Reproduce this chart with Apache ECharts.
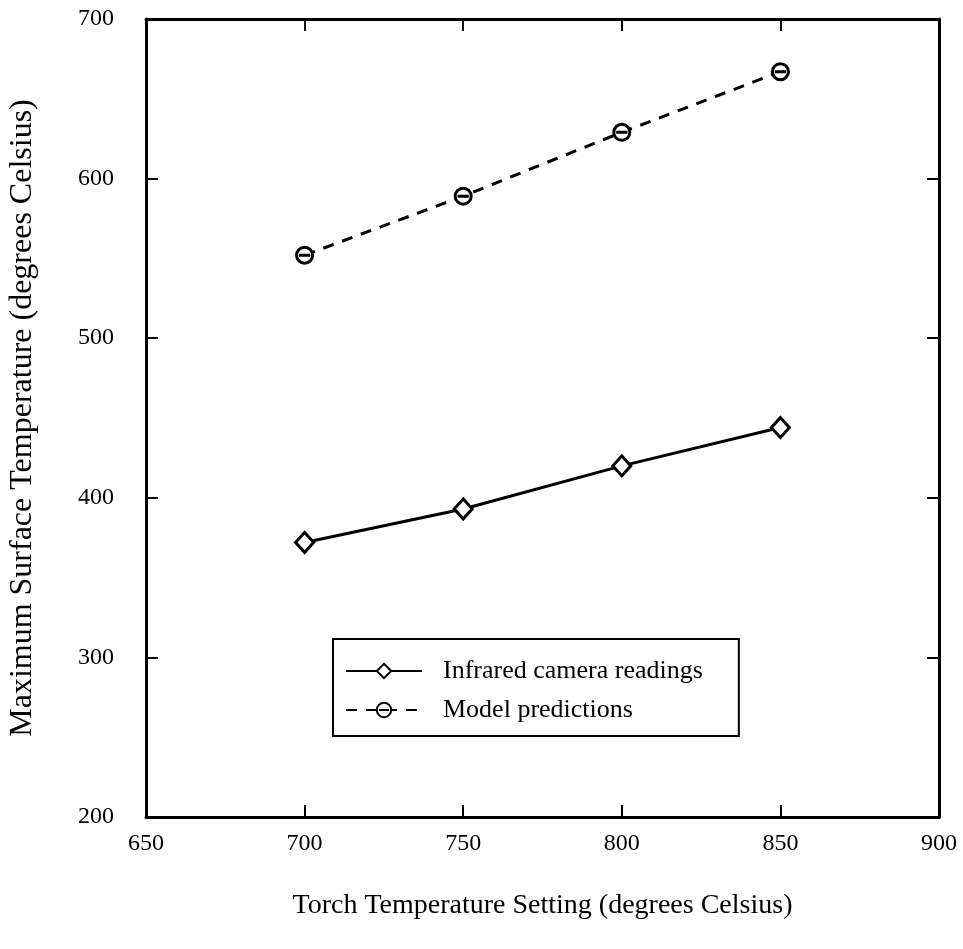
<!DOCTYPE html>
<html>
<head>
<meta charset="utf-8">
<script src="https://cdn.jsdelivr.net/npm/echarts@6/dist/echarts.min.js"></script>
<style>
  html, body { margin: 0; padding: 0; background: #fff; }
  #chart { width: 963px; height: 949px; }
</style>
</head>
<body>
<div id="chart"></div>
<script>
// Torch setting (°C) and measured / modelled peak surface temperature (°C)
var torchSettings = [700, 750, 800, 850];
var infraredReadings = [372, 393, 420, 444];
var modelPredictions = [552, 589, 629, 667];

var xTicks = { min: 650, max: 900, step: 50 };
var yTicks = { min: 200, max: 700, step: 100 };

var seriesNames = ['Infrared camera readings', 'Model predictions'];
var xAxisTitle = 'Torch Temperature Setting (degrees Celsius)';
var yAxisTitle = 'Maximum Surface Temperature (degrees Celsius)';

var FONT = '"Liberation Serif", "DejaVu Serif", serif';
var INK = '#000';

function pairs(xs, ys) {
  return xs.map(function (x, i) { return [x, ys[i]]; });
}

// open circle crossed by a bar
var thetaSymbol = 'path://M0,10 A10,10 0 1,1 20,10 A10,10 0 1,1 0,10 Z M3,10 L17,10';

var baseX = {
  type: 'value', min: xTicks.min, max: xTicks.max, interval: xTicks.step,
  splitLine: { show: false },
  axisLine: { show: true, lineStyle: { color: INK, width: 3 } },
  axisTick: { show: true, inside: true, length: 12, lineStyle: { color: INK, width: 2 } }
};
var baseY = {
  type: 'value', min: yTicks.min, max: yTicks.max, interval: yTicks.step,
  splitLine: { show: false },
  axisLine: { show: true, lineStyle: { color: INK, width: 3 } },
  axisTick: { show: true, inside: true, length: 12, lineStyle: { color: INK, width: 2 } }
};

var chart = echarts.init(document.getElementById('chart'), null, { renderer: 'canvas' });
chart.setOption({
  backgroundColor: '#fff',
  animation: false,
  textStyle: { fontFamily: FONT, color: INK },
  grid: { left: 146, top: 19, right: 24, bottom: 132, containLabel: false, outerBoundsMode: 'none' },
  xAxis: [
    Object.assign({}, baseX, {
      position: 'bottom',
      name: xAxisTitle, nameLocation: 'middle', nameGap: 75,
      nameTextStyle: { fontFamily: FONT, fontSize: 28, color: INK },
      axisLabel: { margin: 15, fontFamily: FONT, fontSize: 24, color: INK }
    }),
    Object.assign({}, baseX, { position: 'top', axisLabel: { show: false } })
  ],
  yAxis: [
    Object.assign({}, baseY, {
      position: 'left',
      name: yAxisTitle, nameLocation: 'middle', nameGap: 107,
      nameTextStyle: { fontFamily: FONT, fontSize: 32, color: INK },
      axisLabel: { margin: 32, fontFamily: FONT, fontSize: 24, color: INK }
    }),
    Object.assign({}, baseY, { position: 'right', axisLabel: { show: false } })
  ],
  legend: {
    orient: 'vertical',
    left: 333, top: 639,
    padding: [19, 36, 13, 12],
    itemGap: 13,
    itemWidth: 76, itemHeight: 18,
    borderColor: INK, borderWidth: 2,
    backgroundColor: '#fff',
    textStyle: { fontFamily: FONT, fontSize: 26, color: INK, padding: [0, 0, 0, 16] },
    data: seriesNames
  },
  series: [
    {
      name: seriesNames[0], type: 'line',
      data: pairs(torchSettings, infraredReadings),
      symbol: 'diamond', symbolSize: [18, 20],
      lineStyle: { color: INK, width: 3 },
      itemStyle: { color: '#fff', borderColor: INK, borderWidth: 3 },
      z: 3
    },
    {
      name: seriesNames[1], type: 'line',
      data: pairs(torchSettings, modelPredictions),
      symbol: thetaSymbol, symbolSize: 16,
      lineStyle: { color: INK, width: 3, type: [11, 9] },
      itemStyle: { color: '#fff', borderColor: INK, borderWidth: 3 },
      z: 3
    }
  ]
});
</script>
</body>
</html>
